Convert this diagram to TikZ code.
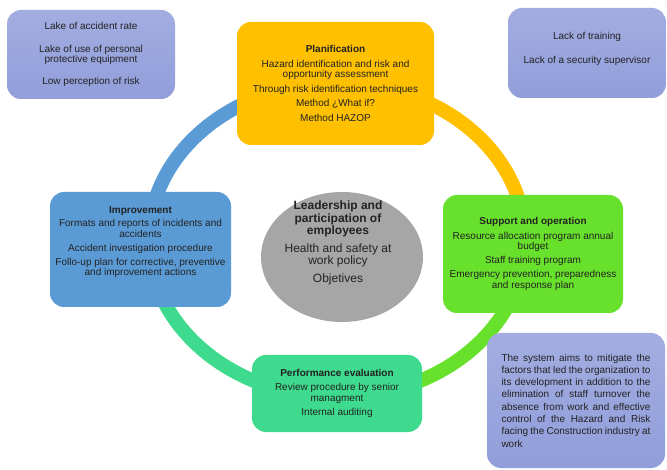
\documentclass[tikz,border=0pt]{standalone}
\usepackage{fontspec}
\setmainfont{Liberation Sans}
\usetikzlibrary{shapes.geometric}
\definecolor{cOrange}{HTML}{FFC000}
\definecolor{cBlue}{HTML}{5B9BD5}
\definecolor{cLime}{HTML}{68E12C}
\definecolor{cTeal}{HTML}{3EDB8E}
\definecolor{cGray}{HTML}{A6A6A6}
\definecolor{cLavTop}{HTML}{A3ADE1}
\definecolor{cLavBot}{HTML}{919EDA}
\definecolor{cText}{HTML}{222222}
\begin{document}
\begin{tikzpicture}[x=1pt,y=-1pt,
  box/.style={rectangle, rounded corners=14pt, align=center, inner sep=0pt,
    font=\fontsize{10}{10.5}\selectfont, text=cText},
  lavbox/.style={box, top color=cLavTop, bottom color=cLavBot, draw=none},
  ringarc/.style={line width=14pt}
]
\useasboundingbox (0,0) rectangle (667,470);
\fill[white] (0,0) rectangle (667,470);

% ring
\coordinate (rc) at (337,240);
\draw[ringarc, cBlue]   (rc) ++(180:188 and 157) arc[start angle=180, end angle=270, x radius=188, y radius=157];
\draw[ringarc, cOrange] (rc) ++(270:188 and 157) arc[start angle=270, end angle=360, x radius=188, y radius=157];
\draw[ringarc, cLime]   (rc) ++(0:188 and 157)   arc[start angle=0,   end angle=90,  x radius=188, y radius=157];
\draw[ringarc, cTeal]   (rc) ++(90:188 and 157)  arc[start angle=90,  end angle=180, x radius=188, y radius=157];

% side notes
\node[lavbox, minimum width=168pt, minimum height=89pt] (notesTL) at (91,54.5)
  {Lake of accident rate\\[12pt]
   Lake of use of personal\\protective equipment\\[11pt]
   Low perception of risk};
\node[lavbox, minimum width=158pt, minimum height=90pt] (notesTR) at (587,53)
  {Lack of training\\[13pt]
   Lack of a security supervisor\\[0pt]};
\node[lavbox, minimum width=178pt, minimum height=135pt] (notesBR) at (576,400.5)
  {\begin{minipage}{149pt}\fontsize{10}{12.3}\selectfont\tolerance=10000\hbadness=10000
   The system aims to mitigate the\linebreak
   factors that led the organization to\linebreak
   its development in addition to the\linebreak
   elimination of staff turnover the\linebreak
   absence from work and effective\linebreak
   control of the Hazard and Risk\linebreak
   facing the Construction industry at\linebreak
   work\end{minipage}};

% cycle boxes
\node[box, fill=cOrange, minimum width=197pt, minimum height=123pt] (plan) at (335.5,83.5)
  {\textbf{Planification}\\[4pt]
   Hazard identification and risk and\\opportunity assessment\\[4pt]
   Through risk identification techniques\\[4pt]
   Method ¿What if?\\[4pt]
   Method HAZOP};
\node[box, fill=cLime, minimum width=180pt, minimum height=118pt] (supp) at (533,254)
  {\textbf{Support and operation}\\[4pt]
   Resource allocation program annual\\budget\\[3pt]
   Staff training program\\[4pt]
   Emergency prevention, preparedness\\and response plan};
\node[box, fill=cTeal, minimum width=170pt, minimum height=77pt] (perf) at (337,393.5)
  {\textbf{Performance evaluation}\\[3.5pt]
   Review procedure by senior\\managment\\[4pt]
   Internal auditing};
\node[box, fill=cBlue, minimum width=181pt, minimum height=115pt] (impr) at (140.5,249.5)
  {\textbf{Improvement}\\[3pt]
   Formats and reports of incidents and\\accidents\\[4pt]
   Accident investigation procedure\\[3pt]
   Follo-up plan for corrective, preventive\\and improvement actions\\[6pt]};

% centre
\node[ellipse, fill=cGray, minimum width=162pt, minimum height=130pt, inner sep=0pt] (lead) at (342,257) {};
\node[align=center, text=cText, font=\fontsize{12}{12.5}\selectfont, inner sep=0pt]
  (leadtxt) at (338,243)
  {\textbf{Leadership and}\\\textbf{participation of}\\\textbf{employees}\\[5pt]
   Health and safety at\\work policy\\[5pt]
   Objetives};
\end{tikzpicture}
\end{document}
